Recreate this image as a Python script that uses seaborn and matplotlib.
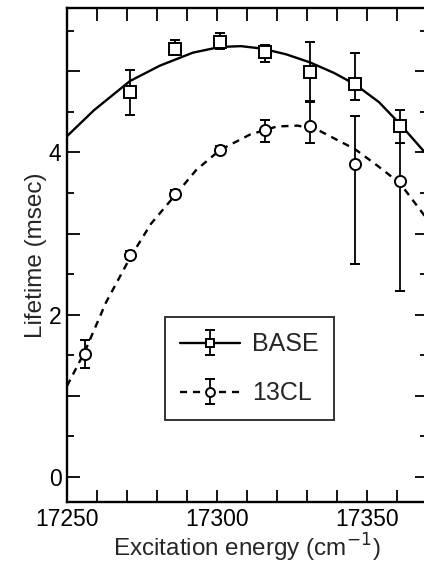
import matplotlib
matplotlib.use("Agg")
import matplotlib.pyplot as plt
import matplotlib.ticker as ticker
from matplotlib.legend_handler import HandlerTuple
import pandas as pd
import seaborn as sns

# measured points
base_energy = [17271, 17286, 17301, 17316, 17331, 17346, 17361]
base_life = [4.74, 5.28, 5.36, 5.24, 4.99, 4.84, 4.32]
base_err_lo = [0.28, 0.08, 0.08, 0.13, 0.37, 0.19, 0.20]
base_err_hi = [0.28, 0.11, 0.11, 0.09, 0.37, 0.39, 0.20]

cl_energy = [17256, 17271, 17286, 17301, 17316, 17331, 17346, 17361]
cl_life = [1.52, 2.73, 3.49, 4.03, 4.28, 4.32, 3.86, 3.65]
cl_err_lo = [0.18, 0.05, 0.05, 0.05, 0.15, 0.20, 1.23, 1.36]
cl_err_hi = [0.17, 0.05, 0.05, 0.05, 0.12, 0.31, 0.59, 0.47]

# fitted curves
base_fit_x = [17250, 17259, 17271, 17281, 17292, 17301, 17308, 17315, 17323, 17331, 17339, 17346, 17354, 17361, 17370]
base_fit_y = [4.20, 4.52, 4.88, 5.07, 5.23, 5.30, 5.31, 5.28, 5.21, 5.11, 4.98, 4.84, 4.62, 4.35, 3.97]
cl_fit_x = [17250, 17256, 17263, 17271, 17278, 17286, 17293, 17301, 17311, 17320, 17327, 17334, 17346, 17353, 17361, 17370]
cl_fit_y = [1.12, 1.55, 2.15, 2.70, 3.12, 3.47, 3.78, 4.03, 4.22, 4.32, 4.33, 4.27, 4.04, 3.85, 3.62, 3.18]

sns.set_style("ticks")
plt.rcParams['font.family'] = ['Liberation Sans', 'DejaVu Sans']

fig = plt.figure(figsize=(4.24, 5.65), dpi=100)
ax = fig.add_axes([0.158, 0.1115, 0.849, 0.8743])

base_fit = pd.DataFrame({'x': base_fit_x, 'y': base_fit_y})
cl_fit = pd.DataFrame({'x': cl_fit_x, 'y': cl_fit_y})
sns.lineplot(data=base_fit, x='x', y='y', ax=ax, color='black', lw=1.7)
sns.lineplot(data=cl_fit, x='x', y='y', ax=ax, color='black', lw=1.7,
             linestyle=(0, (3, 2.5)))
line_base = ax.lines[0]
line_cl = ax.lines[1]

eb_base = ax.errorbar(base_energy, base_life, yerr=[base_err_lo, base_err_hi],
                      fmt='s', ms=8, mfc='white', mec='black', mew=1.4,
                      ecolor='black', elinewidth=1.3, capsize=3.5, capthick=1.3)
eb_cl = ax.errorbar(cl_energy, cl_life, yerr=[cl_err_lo, cl_err_hi],
                    fmt='o', ms=8, mfc='white', mec='black', mew=1.4,
                    ecolor='black', elinewidth=1.3, capsize=3.5, capthick=1.3)

ax.set_xlim(17250, 17370)
ax.set_ylim(-0.31, 5.78)

ax.xaxis.set_major_locator(ticker.MultipleLocator(10))
ax.xaxis.set_major_formatter(ticker.FuncFormatter(
    lambda v, p: f"{v:.0f}" if round(v) % 50 == 0 else ""))
ax.yaxis.set_major_locator(ticker.MultipleLocator(1))
ax.yaxis.set_minor_locator(ticker.MultipleLocator(0.5))
ax.yaxis.set_major_formatter(ticker.FuncFormatter(
    lambda v, p: f"{v:.0f}" if round(v) % 2 == 0 else ""))
ax.tick_params(which='both', direction='in', top=True, right=True,
               labelsize=16.5, width=1.3, colors='black', pad=4)
ax.tick_params(which='major', length=9)
ax.tick_params(which='minor', length=5)
for s in ax.spines.values():
    s.set_linewidth(1.7)
    s.set_color('black')

ax.set_xlabel('Excitation energy (cm$^{-1}$)', fontsize=17.5, labelpad=1)
ax.set_ylabel('Lifetime (msec)', fontsize=17.5, labelpad=1)

leg = ax.legend([(line_base, eb_base), (line_cl, eb_cl)], ['BASE', '13CL'],
                handler_map={tuple: HandlerTuple(ndivide=1)},
                loc='lower left', bbox_to_anchor=(0.272, 0.165), borderaxespad=0,
                fontsize=18, handlelength=2.4, handletextpad=0.5, labelspacing=1.0,
                borderpad=0.6, frameon=True, fancybox=False, edgecolor='black',
                markerscale=0.8)
leg.get_frame().set_linewidth(1.4)

fig.savefig('out.png', dpi=100)
